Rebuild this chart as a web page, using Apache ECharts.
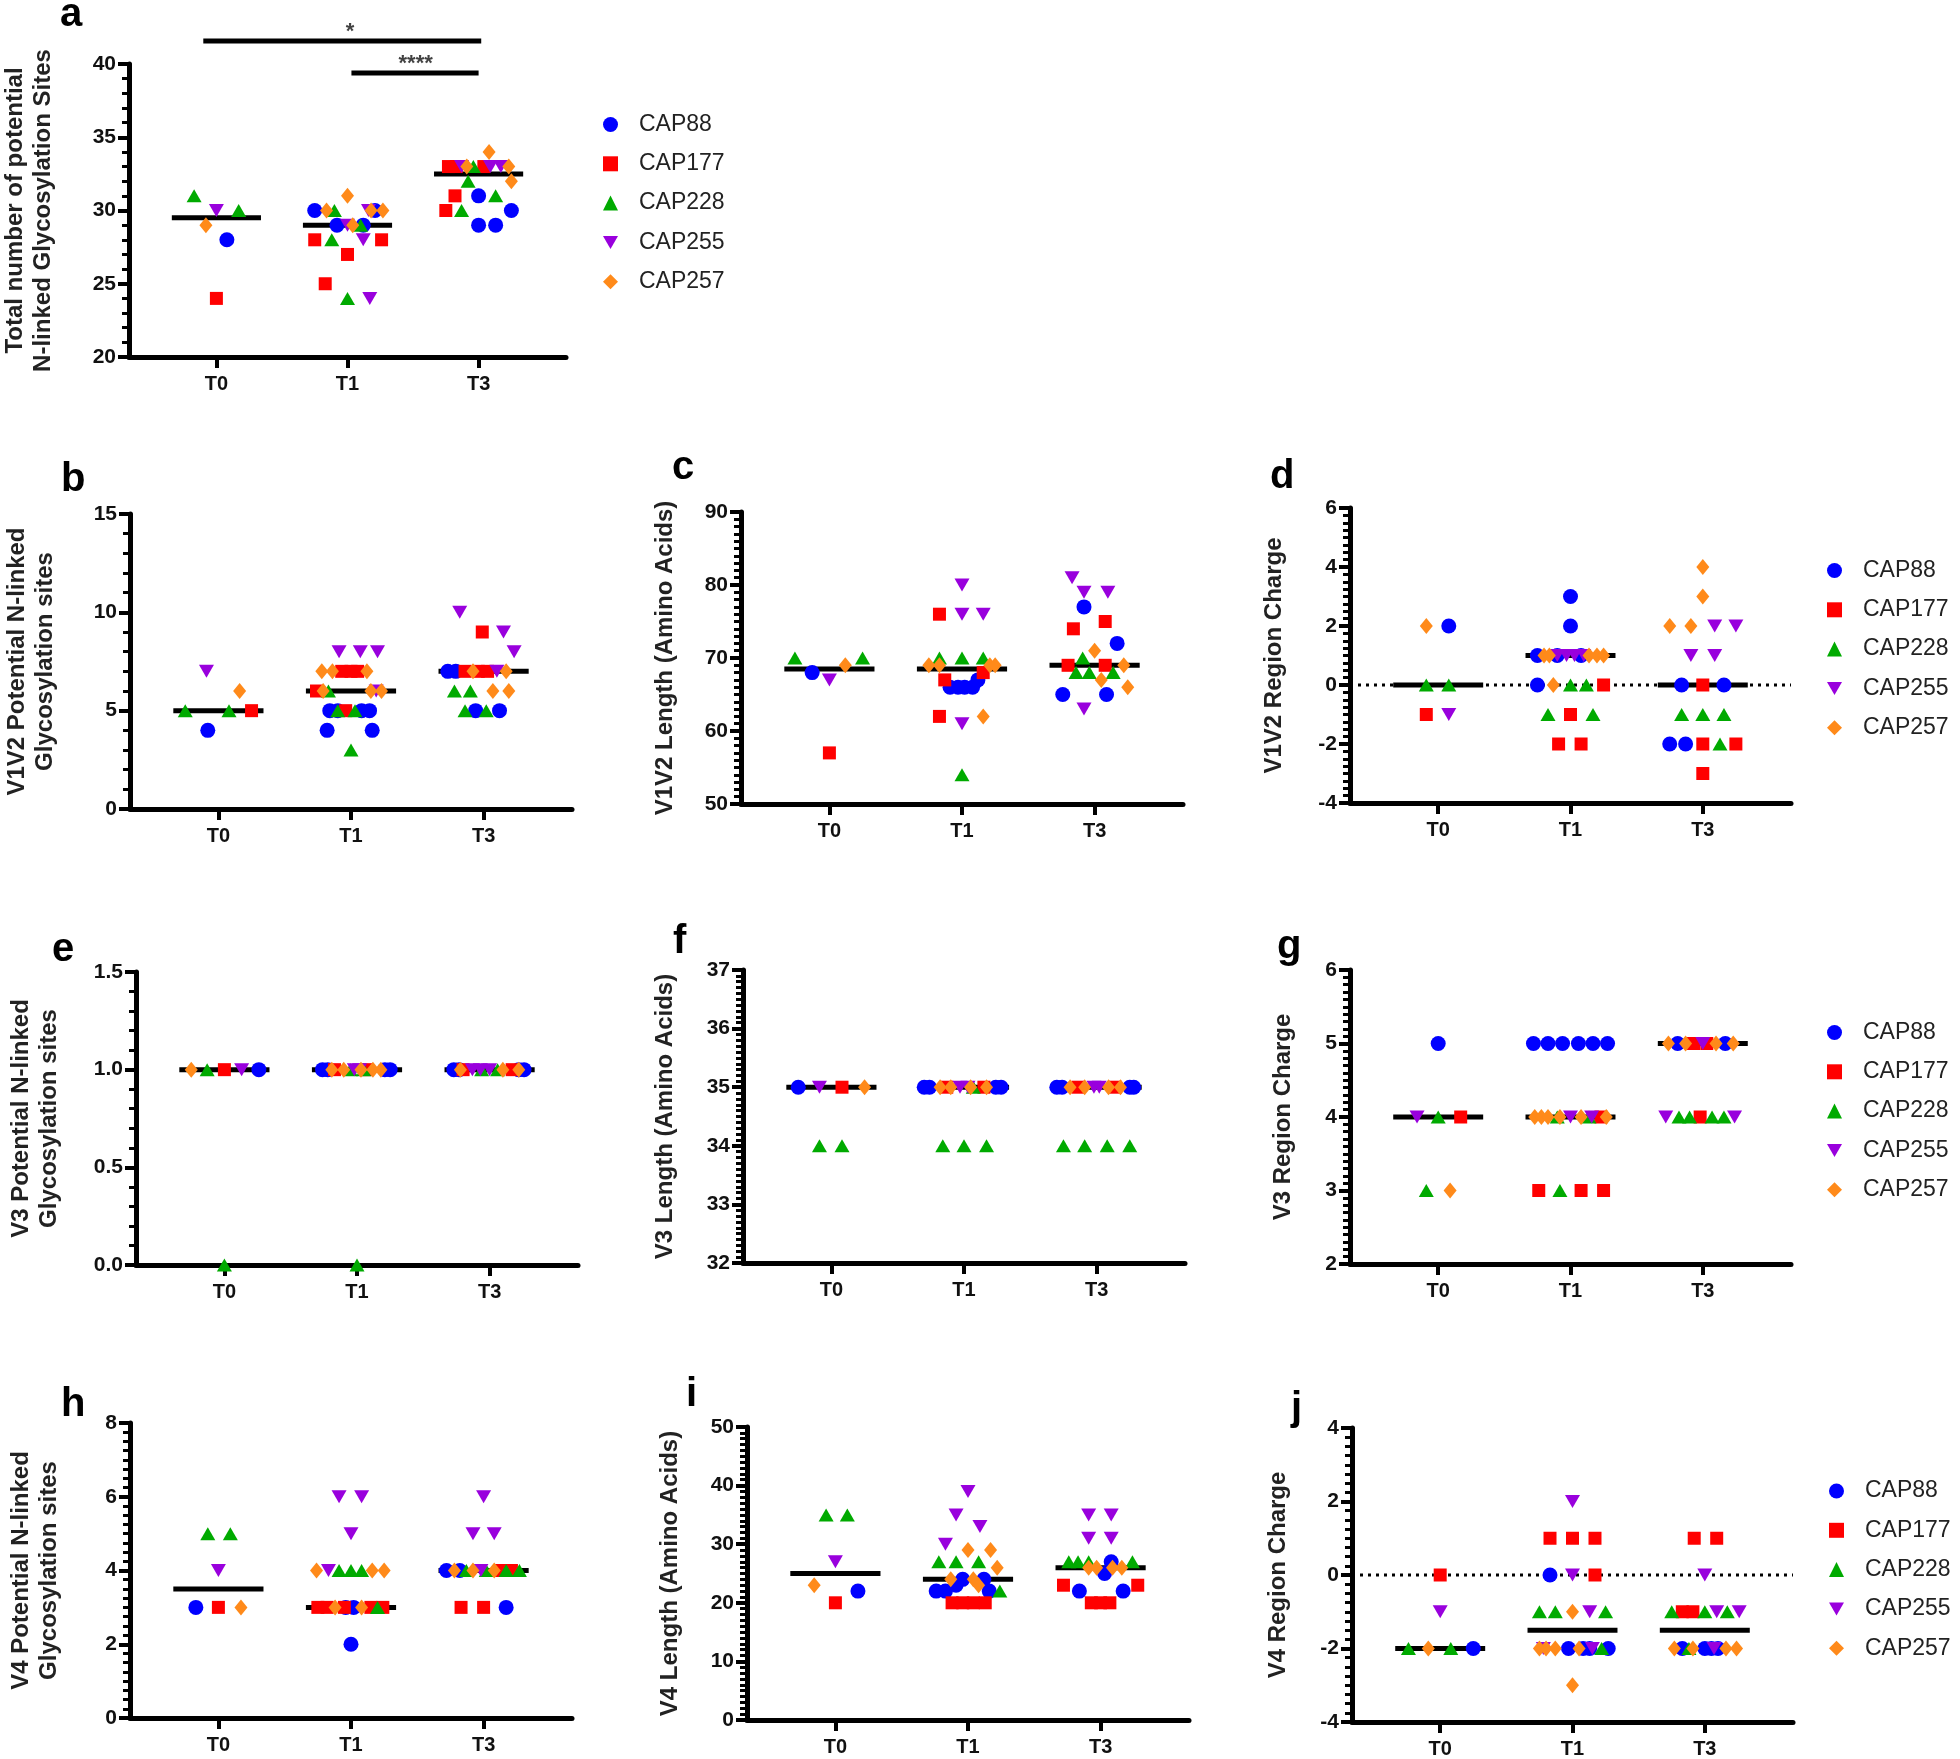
<!DOCTYPE html>
<html><head><meta charset="utf-8">
<script src="https://cdn.jsdelivr.net/npm/echarts@6/dist/echarts.min.js"></script>
<style>html,body{margin:0;padding:0;background:#fff}#c{width:1960px;height:1759px}</style>
</head><body><div id="c"></div><script>
// ---------------- DATA ----------------
const categories = ['T0', 'T1', 'T3'];
const strains = ['CAP88', 'CAP177', 'CAP228', 'CAP255', 'CAP257'];
// each point: [strainIndex, group, jitter, value]
const ptsA = [
 [2,0,-0.17,31],[3,0,0,30],[2,0,0.17,30],[4,0,-0.08,29],[0,0,0.08,28],[1,0,0,24],
 [0,1,-0.25,30],[0,1,0.21,30],[0,1,-0.08,29],[0,1,0.12,29],
 [1,1,-0.25,28],[1,1,0.26,28],[1,1,0,27],[1,1,-0.17,25],
 [2,1,-0.1,30],[2,1,0.1,29],[2,1,-0.12,28],[2,1,0,24],
 [3,1,0.16,30],[3,1,0,29],[3,1,0.12,28],[3,1,0.17,24],
 [4,1,-0.16,30],[4,1,0.18,30],[4,1,0.27,30],[4,1,0,31],[4,1,0.04,29],
 [0,2,0,31],[0,2,0.25,30],[0,2,0,29],[0,2,0.13,29],
 [1,2,-0.23,33],[1,2,-0.17,33],[1,2,0.04,33],[1,2,-0.18,31],[1,2,-0.25,30],
 [2,2,-0.04,33],[2,2,-0.08,32],[2,2,0.13,31],[2,2,-0.13,30],
 [3,2,-0.13,33],[3,2,0.09,33],[3,2,0.17,33],
 [4,2,0.08,34],[4,2,-0.09,33],[4,2,0.23,33],[4,2,0.25,32]
];
const medA = [29.5, 29, 32.5];
const ptsB = [
 [3,0,-0.09,7],[4,0,0.16,6],[2,0,-0.25,5],[2,0,0.08,5],[1,0,0.25,5],[0,0,-0.08,4],
 [0,1,-0.16,5],[0,1,-0.1,5],[0,1,0.08,5],[0,1,0.14,5],[0,1,-0.18,4],[0,1,0.16,4],
 [1,1,-0.07,7],[1,1,0,7],[1,1,0.05,7],[1,1,-0.26,6],[1,1,-0.04,5],
 [2,1,-0.17,6],[2,1,-0.1,5],[2,1,0.03,5],[2,1,0,3],
 [3,1,-0.09,8],[3,1,0.07,8],[3,1,0.2,8],[3,1,0.19,6],
 [4,1,-0.22,7],[4,1,-0.14,7],[4,1,0.12,7],[4,1,-0.21,6],[4,1,0.15,6],[4,1,0.23,6],
 [0,2,-0.27,7],[0,2,-0.21,7],[0,2,-0.06,5],[0,2,0.12,5],
 [1,2,-0.01,9],[1,2,-0.14,7],[1,2,-0.04,7],[1,2,0.03,7],
 [2,2,-0.22,6],[2,2,-0.1,6],[2,2,-0.14,5],[2,2,0.02,5],
 [3,2,-0.18,10],[3,2,0.15,9],[3,2,0.23,8],[3,2,0.1,7],
 [4,2,-0.08,7],[4,2,0.17,7],[4,2,0.07,6],[4,2,0.19,6]
];
const medB = [5, 6, 7];
const ptsC = [
 [2,0,-0.26,70],[2,0,0.25,70],[0,0,-0.13,68],[4,0,0.12,69],[3,0,0,67],[1,0,0,57],
 [0,1,-0.09,66],[0,1,-0.03,66],[0,1,0.02,66],[0,1,0.08,66],[0,1,0.12,67],
 [1,1,-0.17,76],[1,1,0.16,68],[1,1,-0.13,67],[1,1,-0.17,62],
 [2,1,-0.17,70],[2,1,0,70],[2,1,0.16,70],[2,1,0,54],
 [3,1,0,80],[3,1,0,76],[3,1,0.16,76],[3,1,0,61],
 [4,1,-0.25,69],[4,1,-0.17,69],[4,1,0.21,69],[4,1,0.25,69],[4,1,0.16,62],
 [0,2,-0.08,77],[0,2,0.17,72],[0,2,-0.24,65],[0,2,0.09,65],
 [1,2,0.08,75],[1,2,-0.16,74],[1,2,-0.2,69],[1,2,0.08,69],
 [2,2,-0.09,70],[2,2,-0.14,68],[2,2,-0.04,68],[2,2,0.14,68],
 [3,2,-0.17,81],[3,2,-0.08,79],[3,2,0.1,79],[3,2,-0.08,63],
 [4,2,0,71],[4,2,0.22,69],[4,2,0.05,67],[4,2,0.25,66]
];
const medC = [68.5, 68.5, 69];
const ptsD = [
 [4,0,-0.09,2],[0,0,0.08,2],[2,0,-0.09,0],[2,0,0.08,0],[1,0,-0.09,-1],[3,0,0.08,-1],
 [0,1,0,3],[0,1,0,2],[0,1,-0.25,1],[0,1,-0.1,1],[0,1,0.08,1],[0,1,-0.25,0],
 [1,1,0.25,0],[1,1,0,-1],[1,1,-0.09,-2],[1,1,0.08,-2],
 [2,1,0,0],[2,1,0.12,0],[2,1,-0.17,-1],[2,1,0.17,-1],
 [3,1,-0.1,1],[3,1,-0.03,1],[3,1,0.03,1],[3,1,0.1,1],
 [4,1,-0.2,1],[4,1,-0.16,1],[4,1,0.14,1],[4,1,0.2,1],[4,1,0.25,1],[4,1,-0.13,0],
 [0,2,-0.16,0],[0,2,0.16,0],[0,2,-0.25,-2],[0,2,-0.13,-2],
 [1,2,0,0],[1,2,0,-2],[1,2,0.25,-2],[1,2,0,-3],
 [2,2,-0.16,-1],[2,2,0,-1],[2,2,0.16,-1],[2,2,0.13,-2],
 [3,2,0.09,2],[3,2,0.25,2],[3,2,-0.09,1],[3,2,0.09,1],
 [4,2,0,4],[4,2,0,3],[4,2,-0.25,2],[4,2,-0.09,2]
];
const medD = [0, 1, 0];
const ptsE = [
 [4,0,-0.25,1],[2,0,-0.13,1],[1,0,0,1],[3,0,0.13,1],[0,0,0.26,1],[2,0,0,0],
 [0,1,-0.26,1],[0,1,-0.22,1],[0,1,0.21,1],[0,1,0.25,1],[1,1,-0.17,1],[1,1,0.07,1],
 [2,1,-0.05,1],[2,1,0.05,1],[3,1,-0.02,1],[3,1,0.02,1],
 [4,1,-0.19,1],[4,1,-0.1,1],[4,1,0.03,1],[4,1,0.12,1],[4,1,0.18,1],[2,1,0,0],
 [0,2,-0.27,1],[0,2,-0.23,1],[0,2,0.22,1],[0,2,0.26,1],[1,2,-0.2,1],[1,2,0.17,1],
 [2,2,-0.06,1],[2,2,0.06,1],[3,2,-0.13,1],[3,2,-0.07,1],[3,2,0,1],
 [4,2,-0.22,1],[4,2,0.1,1],[4,2,0.22,1]
];
const medE = [1, 1, 1];
const ptsF = [
 [0,0,-0.25,35],[3,0,-0.09,35],[1,0,0.08,35],[4,0,0.25,35],[2,0,-0.09,34],[2,0,0.08,34],
 [0,1,-0.3,35],[0,1,-0.26,35],[0,1,0.24,35],[0,1,0.28,35],[1,1,-0.13,35],[1,1,0.15,35],
 [3,1,-0.03,35],[3,1,0.03,35],[2,1,0.07,35],
 [4,1,-0.18,35],[4,1,-0.1,35],[4,1,0.05,35],[4,1,0.17,35],
 [2,1,-0.16,34],[2,1,0,34],[2,1,0.17,34],
 [0,2,-0.3,35],[0,2,-0.26,35],[0,2,0.25,35],[0,2,0.28,35],[1,2,-0.14,35],[1,2,0.14,35],
 [3,2,-0.02,35],[3,2,0.02,35],
 [4,2,-0.2,35],[4,2,-0.09,35],[4,2,0.09,35],[4,2,0.18,35],
 [2,2,-0.25,34],[2,2,-0.09,34],[2,2,0.08,34],[2,2,0.25,34]
];
const medF = [35, 35, 35];
const ptsG = [
 [0,0,0,5],[1,0,0.17,4],[2,0,0,4],[2,0,-0.09,3],[3,0,-0.16,4],[4,0,0.09,3],
 [0,1,-0.28,5],[0,1,-0.17,5],[0,1,-0.06,5],[0,1,0.06,5],[0,1,0.17,5],[0,1,0.28,5],
 [1,1,0.23,4],[1,1,-0.24,3],[1,1,0.08,3],[1,1,0.25,3],
 [2,1,-0.1,4],[2,1,0.14,4],[2,1,-0.08,3],
 [3,1,0,4],[3,1,0.16,4],
 [4,1,-0.27,4],[4,1,-0.22,4],[4,1,-0.17,4],[4,1,-0.08,4],[4,1,0.08,4],[4,1,0.27,4],
 [0,2,-0.19,5],[0,2,0.17,5],[1,2,-0.07,5],[1,2,0.03,5],[1,2,-0.02,4],
 [2,2,-0.18,4],[2,2,-0.1,4],[2,2,0.07,4],[2,2,0.16,4],
 [3,2,0,5],[3,2,-0.28,4],[3,2,0.24,4],
 [4,2,-0.26,5],[4,2,-0.13,5],[4,2,0.1,5],[4,2,0.23,5]
];
const medG = [4, 4, 5];
const ptsH = [
 [2,0,-0.08,5],[2,0,0.09,5],[3,0,0,4],[0,0,-0.17,3],[1,0,0,3],[4,0,0.17,3],
 [0,1,-0.04,3],[0,1,0.02,3],[0,1,0,2],
 [1,1,-0.25,3],[1,1,-0.18,3],[1,1,-0.05,3],[1,1,0.15,3],[1,1,0.24,3],
 [2,1,-0.09,4],[2,1,0,4],[2,1,0.08,4],[2,1,0.2,3],
 [3,1,-0.09,6],[3,1,0.08,6],[3,1,0,5],[3,1,-0.17,4],
 [4,1,-0.26,4],[4,1,0.16,4],[4,1,0.25,4],[4,1,-0.12,3],[4,1,0.08,3],
 [0,2,-0.28,4],[0,2,-0.18,4],[0,2,0.17,3],
 [1,2,0.12,4],[1,2,0.21,4],[1,2,-0.17,3],[1,2,0,3],
 [2,2,-0.13,4],[2,2,0.02,4],[2,2,0.17,4],[2,2,0.27,4],
 [3,2,0,6],[3,2,-0.08,5],[3,2,0.08,5],[3,2,-0.02,4],
 [4,2,-0.22,4],[4,2,-0.08,4],[4,2,0.08,4]
];
const medH = [3.5, 3, 4];
const ptsI = [
 [2,0,-0.07,35],[2,0,0.09,35],[3,0,0,27],[4,0,-0.16,23],[0,0,0.17,22],[1,0,0,20],
 [0,1,-0.04,24],[0,1,0.12,24],[0,1,-0.09,23],[0,1,-0.24,22],[0,1,-0.17,22],[0,1,0.16,22],
 [1,1,-0.12,20],[1,1,-0.04,20],[1,1,0.04,20],[1,1,0.13,20],
 [2,1,-0.22,27],[2,1,-0.09,27],[2,1,0.08,27],[2,1,0.24,22],
 [3,1,0,39],[3,1,-0.09,35],[3,1,0.09,33],[3,1,-0.17,30],
 [4,1,0,29],[4,1,0.17,29],[4,1,0.22,26],[4,1,-0.13,24],[4,1,0.04,24],[4,1,0.08,23],
 [0,2,0.08,27],[0,2,0.03,25],[0,2,-0.16,22],[0,2,0.17,22],
 [1,2,-0.28,23],[1,2,0.28,23],[1,2,-0.07,20],[1,2,0,20],[1,2,0.07,20],
 [2,2,-0.24,27],[2,2,-0.17,27],[2,2,-0.09,27],[2,2,0.24,27],
 [3,2,-0.09,35],[3,2,0.08,35],[3,2,-0.09,31],[3,2,0.08,31],
 [4,2,-0.09,26],[4,2,-0.03,26],[4,2,0.09,26],[4,2,0.16,26]
];
const medI = [25, 24, 26];
const ptsJ = [
 [1,0,0,0],[3,0,0,-1],[2,0,-0.24,-2],[4,0,-0.09,-2],[2,0,0.08,-2],[0,0,0.25,-2],
 [0,1,-0.17,0],[0,1,-0.03,-2],[0,1,0.08,-2],[0,1,0.13,-2],[0,1,0.27,-2],
 [1,1,-0.17,1],[1,1,0,1],[1,1,0.17,1],[1,1,0.17,0],
 [2,1,-0.25,-1],[2,1,-0.13,-1],[2,1,0.25,-1],[2,1,0.22,-2],
 [3,1,0,2],[3,1,0,0],[3,1,0.13,-1],[3,1,-0.22,-2],[3,1,0.15,-2],
 [4,1,0,-1],[4,1,-0.25,-2],[4,1,-0.2,-2],[4,1,-0.13,-2],[4,1,0.05,-2],[4,1,0,-3],
 [0,2,-0.17,-2],[0,2,0,-2],[0,2,0.05,-2],[0,2,0.1,-2],
 [1,2,-0.08,1],[1,2,0.09,1],[1,2,-0.17,-1],[1,2,-0.09,-1],
 [2,2,-0.25,-1],[2,2,0,-1],[2,2,0.17,-1],[2,2,-0.12,-2],
 [3,2,0,0],[3,2,0.09,-1],[3,2,0.26,-1],[3,2,0.07,-2],
 [4,2,-0.23,-2],[4,2,-0.09,-2],[4,2,0.16,-2],[4,2,0.24,-2]
];
const medJ = [-2, -1.5, -1.5];
// significance annotations in panel a
const sigFrom = [-0.1, 1.03];
const sigTo = [2.02, 2.0];
const sigLevel = [41.57, 39.39];
const sigText = ['*', '****'];
const sigTextX = [1.02, 1.52];

// ---------------- STYLE / LAYOUT ----------------
const colors = ['#0000ff', '#ff0000', '#00aa00', '#9900dd', '#ff8a1a'];
const symbols = ['circle', 'rect', 'triangle', 'path://M0,0L10,0L5,8.66Z', 'diamond'];
const sizes = [15, 13, [15, 13], [15, 13], [13, 16]];
const FONT = '"Liberation Sans", Arial, Helvetica, sans-serif';
const medHalf = 0.34;

const panels = [
 {L:'a', pts:ptsA, med:medA, left:125, right:566, top:64, bottom:357, min:20, max:40, step:5, minor:5, dec:0, gap:72,
  title:'Total number of potential\nN-linked Glycosylation Sites', lx:60, ly:25},
 {L:'b', pts:ptsB, med:medB, left:130, right:572, top:514, bottom:809, min:0, max:15, step:5, minor:5, dec:0, gap:71,
  title:'V1V2 Potential N-linked\nGlycosylation sites', lx:61, ly:490},
 {L:'c', pts:ptsC, med:medC, left:741, right:1183, top:512, bottom:804, min:50, max:90, step:10, minor:10, dec:0, gap:62,
  title:'V1V2 Length (Amino Acids)', lx:672, ly:478},
 {L:'d', pts:ptsD, med:medD, left:1350, right:1791, top:508, bottom:803, min:-4, max:6, step:2, minor:8, dec:0, gap:62,
  title:'V1V2 Region Charge', lx:1270, ly:487, zero:true, legendTop:565.5},
 {L:'e', pts:ptsE, med:medE, left:136, right:578, top:972, bottom:1265, min:0, max:1.5, step:0.5, minor:5, dec:1, gap:73,
  title:'V3 Potential N-linked\nGlycosylation sites', lx:52, ly:960},
 {L:'f', pts:ptsF, med:medF, left:743, right:1185, top:970, bottom:1263, min:32, max:37, step:1, minor:10, dec:0, gap:64,
  title:'V3 Length (Amino Acids)', lx:673, ly:952},
 {L:'g', pts:ptsG, med:medG, left:1350, right:1791, top:970, bottom:1264, min:2, max:6, step:1, minor:10, dec:0, gap:53,
  title:'V3 Region Charge', lx:1277, ly:957, legendTop:1027.5},
 {L:'h', pts:ptsH, med:medH, left:130, right:572, top:1423, bottom:1718, min:0, max:8, step:2, minor:8, dec:0, gap:67,
  title:'V4 Potential N-linked\nGlycosylation sites', lx:61, ly:1415},
 {L:'i', pts:ptsI, med:medI, left:747, right:1189, top:1427, bottom:1720, min:0, max:50, step:10, minor:10, dec:0, gap:63,
  title:'V4 Length (Amino Acids)', lx:686, ly:1405},
 {L:'j', pts:ptsJ, med:medJ, left:1352, right:1793, top:1428, bottom:1722, min:-4, max:4, step:2, minor:8, dec:0, gap:60,
  title:'V4 Region Charge', lx:1291, ly:1419, zero:true, legendTop:1486}
];

const grids = [], xAxes = [], yAxes = [], series = [], graphics = [], legends = [];
const legendRows = 39.3;

function makeLegend(left, firstRowCenter) {
  legends.push({
    orient: 'vertical', left: left, top: firstRowCenter - 12,
    itemWidth: 15, itemHeight: 15, itemGap: legendRows - 24,
    selectedMode: false, data: strains,
    textStyle: {fontFamily: FONT, fontSize: 23, color: '#222', lineHeight: 24, padding: [0, 0, 0, 16]}
  });
}

panels.forEach((p, i) => {
  grids.push({left: p.left, top: p.top, width: p.right - p.left, height: p.bottom - p.top, containLabel: false});
  xAxes.push({
    type: 'value', gridIndex: i, min: -2 / 3, max: 8 / 3,
    axisLine: {show: true, onZero: false, lineStyle: {color: '#000', width: 5}},
    axisTick: {show: true, customValues: [0, 1, 2], length: 11, lineStyle: {color: '#000', width: 4}},
    axisLabel: {show: true, customValues: [0, 1, 2], formatter: v => categories[Math.round(v)],
      color: '#111', fontFamily: FONT, fontWeight: 'bold', fontSize: 20, margin: 17},
    splitLine: {show: false}
  });
  yAxes.push({
    type: 'value', gridIndex: i, min: p.min, max: p.max, interval: p.step,
    axisLine: {show: true, onZero: false, lineStyle: {color: '#000', width: 5}},
    axisTick: {show: true, length: 11, lineStyle: {color: '#000', width: 4}},
    minorTick: {show: true, splitNumber: p.minor, length: 7, lineStyle: {color: '#000', width: 3}},
    axisLabel: {color: '#111', fontFamily: FONT, fontWeight: 'bold', fontSize: 21, margin: 13,
      formatter: v => p.dec ? v.toFixed(p.dec) : String(Math.round(v))},
    splitLine: {show: false},
    name: p.title, nameLocation: 'middle', nameGap: p.gap, nameRotate: 90,
    nameTextStyle: {fontFamily: FONT, fontWeight: 'bold', fontSize: 24, color: '#222', lineHeight: 28}
  });
  if (p.zero) {
    series.push({type: 'line', xAxisIndex: i, yAxisIndex: i, data: [[-2 / 3, 0], [8 / 3, 0]],
      symbol: 'none', silent: true, z: 1,
      lineStyle: {color: '#000', width: 3, type: [3, 5]}});
  }
  p.med.forEach((m, g) => {
    series.push({type: 'line', xAxisIndex: i, yAxisIndex: i, data: [[g - medHalf, m], [g + medHalf, m]],
      symbol: 'none', silent: true, z: 2, lineStyle: {color: '#000', width: 5, cap: 'butt'}});
  });
  strains.forEach((name, s) => {
    series.push({
      type: 'scatter', name: name, xAxisIndex: i, yAxisIndex: i,
      symbol: symbols[s], symbolSize: sizes[s], itemStyle: {color: colors[s], opacity: 1},
      data: p.pts.filter(r => r[0] === s).map(r => [r[1] + r[2], r[3]]),
      z: 3 + s, silent: true
    });
  });
  graphics.push({type: 'text', left: p.lx, top: p.ly - 30,
    style: {text: p.L, font: 'bold 40px ' + FONT, fill: '#000'}});
  if (p.legendTop) makeLegend(p.right + 31, p.legendTop);
});
makeLegend(598, 119.5);

// significance bars (panel a)
sigFrom.forEach((x0, k) => {
  series.push({type: 'line', xAxisIndex: 0, yAxisIndex: 0, clip: false, symbol: 'none', silent: true, z: 5,
    data: [[x0, sigLevel[k]], [sigTo[k], sigLevel[k]]], lineStyle: {color: '#000', width: 5, cap: 'butt'}});
  series.push({type: 'scatter', xAxisIndex: 0, yAxisIndex: 0, clip: false, symbolSize: 0, silent: true, z: 5,
    data: [{value: [sigTextX[k], sigLevel[k]]}],
    label: {show: true, position: 'top', distance: -2, formatter: sigText[k],
      fontFamily: FONT, fontWeight: 'bold', fontSize: 22, color: '#111'}});
});

const chart = echarts.init(document.getElementById('c'), null, {renderer: 'canvas'});
chart.setOption({
  backgroundColor: '#fff', animation: false,
  grid: grids, xAxis: xAxes, yAxis: yAxes, series: series, legend: legends, graphic: graphics
});
</script></body></html>
